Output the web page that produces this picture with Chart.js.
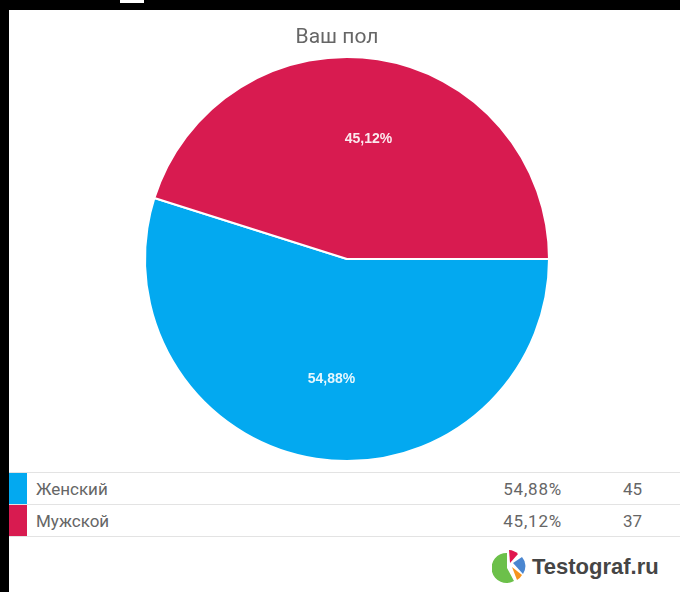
<!DOCTYPE html>
<html>
<head>
<meta charset="utf-8">
<script src="https://cdn.jsdelivr.net/npm/chart.js@4/dist/chart.umd.min.js"></script>
<style>
  html, body { margin: 0; padding: 0; background: #fff; }
  body { width: 680px; height: 592px; position: relative; overflow: hidden; font-family: Roboto, "Liberation Sans", sans-serif; }
  .band-top { position: absolute; left: 0; top: 0; width: 680px; height: 10px; background: #000; }
  .band-left { position: absolute; left: 0; top: 0; width: 9px; height: 592px; background: #000; }
  .nub { position: absolute; left: 120px; top: 0; width: 24px; height: 3px; background: #fff; }
  .title { position: absolute; left: 237px; top: 22px; width: 200px; text-align: center; font-size: 21px; color: #666; line-height: 28px; }
  .wrap { position: absolute; left: 9px; top: 10px; width: 656px; height: 460px; }
  table.leg { position: absolute; left: 9px; top: 472px; width: 671px; border-collapse: collapse; }
  table.leg td { height: 31px; border-top: 1px solid #e3e3e3; border-bottom: 1px solid #e3e3e3; padding: 0; font-size: 17px; color: #666; }
  td.sw { width: 18px; }
  td.nm { padding-left: 9px !important; }
  td.pc { text-align: right; width: 100px; letter-spacing: 0.8px; }
  td.ct { width: 57px; padding-left: 61px !important; }
  .logo { position: absolute; left: 492px; top: 548px; height: 38px; display: flex; align-items: center; }
  .logo span { font-family: "Liberation Sans", Arial, sans-serif; font-weight: bold; font-size: 22px; color: #454545; margin-left: 4px; }
</style>
</head>
<body>
<div class="band-top"></div>
<div class="band-left"></div>
<div class="nub"></div>
<div class="wrap"><canvas id="chart-pie"></canvas></div>
<div class="title">Ваш пол</div>
<table class="leg" id="leg-pie"></table>
<div class="logo">
  <svg width="36" height="36" viewBox="0 0 36 36">
    <path d="M15 4 A15 15 0 1 0 22 32 L15 19 Z" fill="#6cc04a"/>
    <path d="M17 1 A14 14 0 0 1 26 5 L18 14 Z" fill="#e0164e"/>
    <path d="M21 14 L30 8 A14 14 0 0 1 31 25 Z" fill="#4a86d0"/>
    <path d="M20 18 L30 26 A13 13 0 0 1 25 31 Z" fill="#f7941d"/>
  </svg>
  <span>Testograf.ru</span>
</div>
<script>
var LABELS  = ['Женский', 'Мужской'];
var COUNTS  = [45, 37];
var PERCENT = ['54,88%', '45,12%'];
var COLORS  = ['#03a9f0', '#d81b50'];

var CHARTS = {};

/* percentage labels inside the slices */
var sliceLabels = {
  id: 'sliceLabels',
  afterDatasetsDraw: function(chart) {
    var ctx = chart.ctx;
    var meta = chart.getDatasetMeta(0);
    ctx.save();
    ctx.font = 'bold 14px "Liberation Sans", Arial, sans-serif';
    ctx.fillStyle = 'rgba(255,255,255,0.9)';
    ctx.textAlign = 'center';
    ctx.textBaseline = 'middle';
    meta.data.forEach(function(arc, i) {
      var p = arc.getProps(['x', 'y', 'startAngle', 'endAngle', 'outerRadius'], true);
      var mid = (p.startAngle + p.endAngle) / 2;
      var r = p.outerRadius * 0.6;
      ctx.fillText(PERCENT[i], p.x + Math.cos(mid) * r + 3, p.y + Math.sin(mid) * r);
    });
    ctx.restore();
  }
};

function drawPie() {
  var el = document.getElementById('chart-pie');
  CHARTS.pie = new Chart(el, {
    type: 'pie',
    data: {
      labels: LABELS,
      datasets: [{
        data: COUNTS,
        backgroundColor: COLORS,
        borderColor: '#fff',
        borderWidth: 2
      }]
    },
    options: {
      responsive: true,
      maintainAspectRatio: false,
      animation: false,
      rotation: 90,
      layout: { padding: { left: 20, top: 46, bottom: 8 } },
      plugins: {
        legend: { display: false },
        tooltip: { enabled: false },
        title: { display: false }
      }
    },
    plugins: [sliceLabels]
  });

  var leg = document.getElementById('leg-pie');
  leg.innerHTML = LABELS.map(function(l, i) {
    return (
      '<tr>' +
        '<td class="sw" style="background:' + COLORS[i] + '"></td>' +
        '<td class="nm">' + l + '</td>' +
        '<td class="pc">' + PERCENT[i] + '</td>' +
        '<td class="ct">' + COUNTS[i] + '</td>' +
      '</tr>'
    );
  }).join('');
}

drawPie();
</script>
</body>
</html>
